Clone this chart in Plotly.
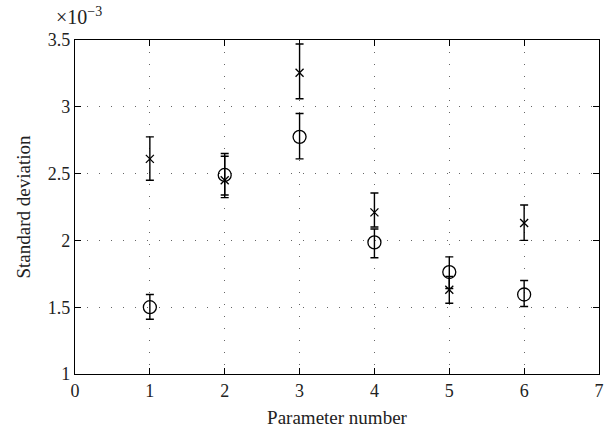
import plotly.graph_objects as go

params = [1, 2, 3, 4, 5, 6]
# values in units of 1e-3
cross_val = [2.61, 2.45, 3.255, 2.21, 1.63, 2.13]
cross_hi = [2.775, 2.65, 3.47, 2.355, 1.73, 2.265]
cross_lo = [2.45, 2.32, 3.06, 2.10, 1.53, 2.00]
circ_val = [1.50, 2.49, 2.775, 1.985, 1.763, 1.595]
circ_hi = [1.595, 2.63, 2.95, 2.085, 1.877, 1.70]
circ_lo = [1.41, 2.34, 2.61, 1.87, 1.64, 1.505]
x_ticks = [0, 1, 2, 3, 4, 5, 6, 7]
y_ticks = [1, 1.5, 2, 2.5, 3, 3.5]
y_tick_labels = ["1", "1.5", "2", "2.5", "3", "3.5"]

font_family = "Liberation Serif, DejaVu Serif, serif"

def err(vals, hi, lo):
    return ([h - v for v, h in zip(vals, hi)], [v - l for v, l in zip(vals, lo)])

fig = go.Figure()
for vals, hi, lo, sym, size in [
    (cross_val, cross_hi, cross_lo, "x-thin-open", 8),
    (circ_val, circ_hi, circ_lo, "circle-open", 13),
]:
    up, down = err(vals, hi, lo)
    fig.add_trace(go.Scatter(
        x=params, y=vals, mode="markers",
        marker=dict(symbol=sym, size=size, color="black", line=dict(color="black", width=1.3)),
        error_y=dict(type="data", symmetric=False, array=up, arrayminus=down,
                     color="black", thickness=1.4, width=4),
        showlegend=False,
    ))

axis_common = dict(
    showline=True, linecolor="black", linewidth=1.3, mirror="ticks",
    ticks="inside", ticklen=6, tickwidth=1.4, tickcolor="black",
    showgrid=True, gridcolor="#666666", gridwidth=1.2, griddash="1px,11px",
    zeroline=False, tickfont=dict(family=font_family, size=18, color="#222"),
    ticklabeloverflow="allow",
)

fig.update_layout(
    width=606, height=434,
    margin=dict(l=75, r=2, t=40, b=60),
    paper_bgcolor="white", plot_bgcolor="white",
    font=dict(family=font_family, color="#222", size=18),
    xaxis=dict(range=[0, 7], tickvals=x_ticks, **axis_common,
               title=dict(text="Parameter number", font=dict(family=font_family, size=19, color="#222"), standoff=10)),
    yaxis=dict(range=[1, 3.5], tickvals=y_ticks, ticktext=y_tick_labels, **axis_common,
               title=dict(text="Standard deviation", font=dict(family=font_family, size=19, color="#222"), standoff=12)),
    annotations=[dict(
        text="×10<sup>−3</sup>", x=0, y=1, xref="paper", yref="paper",
        xanchor="left", yanchor="bottom", xshift=-21, yshift=10, showarrow=False,
        font=dict(family=font_family, size=20, color="#222"),
    )],
)

fig.write_html("out.html")
